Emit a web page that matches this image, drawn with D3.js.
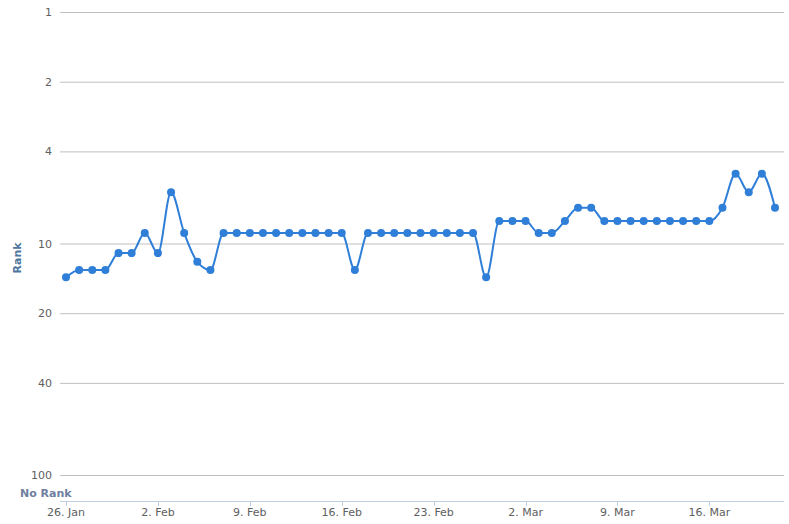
<!DOCTYPE html>
<html><head><meta charset="utf-8">
<script src="https://cdn.jsdelivr.net/npm/d3@7"></script>
<style>body{margin:0;background:#fff}svg{display:block}text{font-family:"DejaVu Sans",Verdana,sans-serif}</style>
</head><body><svg id="c" width="789" height="524"></svg>
<script>
const startDate = "2021-01-26";
const ranks = [14,13,13,13,11,11,9,11,6,9,12,13,
  9,9,9,9,9,9,9,9,9,9,13,
  9,9,9,9,9,9,9,9,9,14,
  8,8,8,9,9,8,7,7,
  8,8,8,8,8,8,8,8,8,
  7,5,6,5,7];
const yTicks = [1,2,4,10,20,40,100];
const xTickLabels = ["26. Jan","2. Feb","9. Feb","16. Feb","23. Feb","2. Mar","9. Mar","16. Mar"];

const parse = d3.utcParse("%Y-%m-%d");
const t0 = parse(startDate);
const data = ranks.map((r,i)=>({date:d3.utcDay.offset(t0,i), r}));
const svg = d3.select("#c");
const x = d3.scaleUtc().domain([t0, data[data.length-1].date]).range([66,775]);
const y = d3.scaleLog().domain([1,100]).range([12,475]);
const left=60, right=784, axisY=501;

// grid
svg.append("g").selectAll("line").data(yTicks).join("line")
  .attr("x1",left).attr("x2",right).attr("y1",d=>y(d)+0.5).attr("y2",d=>y(d)+0.5)
  .attr("stroke","#c0c0c0").attr("stroke-width",1);
svg.append("g").selectAll("text").data(yTicks).join("text")
  .attr("x",52).attr("y",d=>y(d)+4).attr("text-anchor","end")
  .attr("font-size",11).attr("fill","#606060").text(d=>d);

// x axis
const xTicks = d3.range(8).map(i=>d3.utcDay.offset(t0,i*7));
svg.append("line").attr("x1",left).attr("x2",right).attr("y1",axisY+0.5).attr("y2",axisY+0.5)
  .attr("stroke","#c0d0e0").attr("stroke-width",1);
svg.append("g").selectAll("line").data(xTicks).join("line")
  .attr("x1",d=>Math.round(x(d))+0.5).attr("x2",d=>Math.round(x(d))+0.5)
  .attr("y1",axisY).attr("y2",axisY+5).attr("stroke","#c0d0e0");
svg.append("g").selectAll("text").data(xTicks).join("text")
  .attr("x",d=>x(d)).attr("y",axisY+15).attr("text-anchor","middle")
  .attr("font-size",11).attr("fill","#606060").text((d,i)=>xTickLabels[i]);

// titles
svg.append("text").attr("transform","translate(21,258) rotate(-90)").attr("text-anchor","middle")
  .attr("font-size",11).attr("font-weight","bold").attr("fill","#4d759e").text("Rank");
svg.append("text").attr("x",20).attr("y",497).attr("font-size",11).attr("font-weight","bold")
  .attr("fill","#6e7fa0").text("No Rank");

// line
const color="#2f7ed8";
svg.append("path").datum(data)
  .attr("d",d3.line().x(d=>x(d.date)).y(d=>y(d.r)).curve(d3.curveMonotoneX))
  .attr("fill","none").attr("stroke",color).attr("stroke-width",2);
svg.append("g").selectAll("circle").data(data).join("circle")
  .attr("cx",d=>x(d.date)).attr("cy",d=>y(d.r)).attr("r",4).attr("fill",color);
</script></body></html>
